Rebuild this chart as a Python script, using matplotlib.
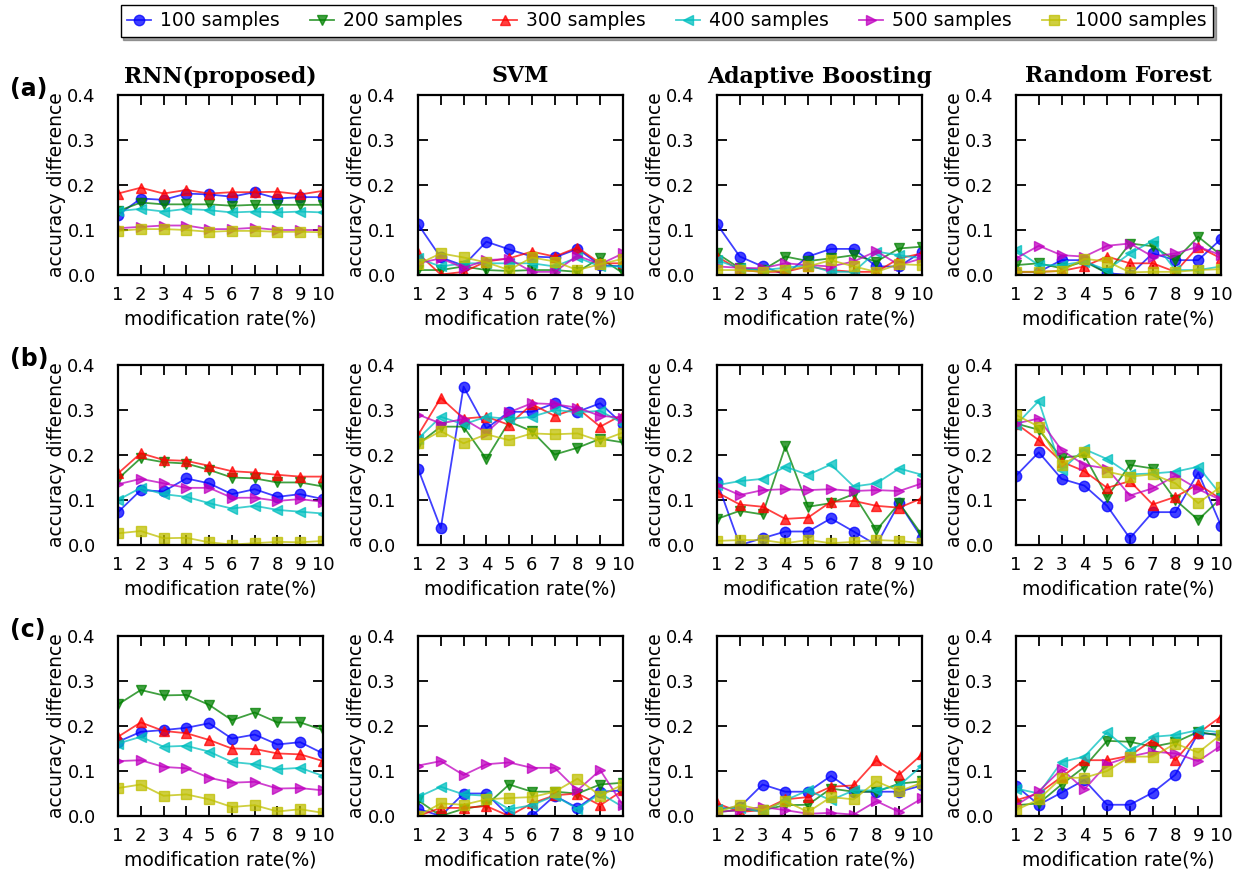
import matplotlib
matplotlib.use("Agg")
import matplotlib.pyplot as plt
import numpy as np

rates = list(range(1, 11))
sample_labels = ["100 samples", "200 samples", "300 samples",
                 "400 samples", "500 samples", "1000 samples"]
model_titles = ["RNN(proposed)", "SVM", "Adaptive Boosting", "Random Forest"]
row_tags = ["(a)", "(b)", "(c)"]

# ---- row (a) ----
a_rnn = [
    [0.133, 0.170, 0.167, 0.181, 0.179, 0.174, 0.184, 0.170, 0.173, 0.173],
    [0.142, 0.161, 0.157, 0.157, 0.157, 0.154, 0.156, 0.156, 0.156, 0.156],
    [0.181, 0.194, 0.181, 0.189, 0.181, 0.184, 0.184, 0.185, 0.179, 0.187],
    [0.142, 0.147, 0.141, 0.147, 0.144, 0.139, 0.141, 0.139, 0.141, 0.139],
    [0.104, 0.107, 0.110, 0.110, 0.102, 0.102, 0.105, 0.100, 0.100, 0.100],
    [0.098, 0.102, 0.102, 0.100, 0.096, 0.098, 0.098, 0.096, 0.096, 0.095],
]
a_svm = [
    [0.113, 0.039, 0.021, 0.074, 0.057, 0.041, 0.039, 0.058, 0.022, 0.019],
    [0.011, 0.011, 0.019, 0.011, 0.009, 0.011, 0.011, 0.007, 0.038, 0.004],
    [0.048, 0.001, 0.007, 0.030, 0.037, 0.052, 0.041, 0.061, 0.026, 0.026],
    [0.037, 0.019, 0.026, 0.026, 0.026, 0.026, 0.019, 0.039, 0.019, 0.019],
    [0.026, 0.037, 0.016, 0.033, 0.036, 0.007, 0.007, 0.043, 0.024, 0.048],
    [0.024, 0.048, 0.039, 0.028, 0.011, 0.039, 0.030, 0.011, 0.024, 0.036],
]
a_ada = [
    [0.113, 0.041, 0.019, 0.001, 0.041, 0.058, 0.058, 0.019, 0.019, 0.052],
    [0.048, 0.015, 0.011, 0.041, 0.031, 0.037, 0.044, 0.030, 0.059, 0.063],
    [0.041, 0.011, 0.007, 0.007, 0.019, 0.011, 0.007, 0.007, 0.037, 0.048],
    [0.033, 0.015, 0.011, 0.016, 0.022, 0.007, 0.007, 0.052, 0.044, 0.037],
    [0.019, 0.016, 0.015, 0.026, 0.022, 0.019, 0.030, 0.053, 0.022, 0.037],
    [0.011, 0.011, 0.007, 0.011, 0.019, 0.033, 0.019, 0.007, 0.024, 0.022],
]
a_rf = [
    [0.007, 0.007, 0.033, 0.033, 0.004, 0.000, 0.048, 0.033, 0.033, 0.080],
    [0.022, 0.026, 0.015, 0.030, 0.004, 0.070, 0.064, 0.033, 0.085, 0.044],
    [0.007, 0.007, 0.009, 0.019, 0.041, 0.026, 0.026, 0.007, 0.063, 0.037],
    [0.056, 0.022, 0.022, 0.030, 0.011, 0.048, 0.076, 0.011, 0.011, 0.019],
    [0.037, 0.065, 0.044, 0.041, 0.065, 0.070, 0.041, 0.048, 0.063, 0.044],
    [0.007, 0.007, 0.009, 0.036, 0.030, 0.006, 0.007, 0.007, 0.011, 0.013],
]

# ---- row (b) ----
b_rnn = [
    [0.073, 0.122, 0.119, 0.148, 0.137, 0.113, 0.124, 0.107, 0.113, 0.102],
    [0.147, 0.193, 0.184, 0.181, 0.167, 0.150, 0.148, 0.139, 0.139, 0.130],
    [0.159, 0.204, 0.189, 0.187, 0.176, 0.164, 0.161, 0.156, 0.152, 0.152],
    [0.100, 0.127, 0.113, 0.107, 0.093, 0.081, 0.087, 0.078, 0.074, 0.070],
    [0.135, 0.147, 0.137, 0.127, 0.127, 0.105, 0.105, 0.098, 0.102, 0.096],
    [0.026, 0.031, 0.015, 0.016, 0.006, 0.001, 0.004, 0.007, 0.006, 0.009],
]
b_svm = [
    [0.170, 0.037, 0.352, 0.259, 0.296, 0.296, 0.315, 0.296, 0.315, 0.268],
    [0.224, 0.263, 0.263, 0.191, 0.274, 0.253, 0.201, 0.216, 0.236, 0.228],
    [0.244, 0.327, 0.281, 0.285, 0.267, 0.313, 0.287, 0.304, 0.263, 0.290],
    [0.236, 0.285, 0.268, 0.285, 0.280, 0.285, 0.300, 0.295, 0.298, 0.270],
    [0.290, 0.270, 0.280, 0.250, 0.295, 0.315, 0.313, 0.305, 0.287, 0.283],
    [0.226, 0.253, 0.226, 0.246, 0.233, 0.248, 0.246, 0.248, 0.231, 0.250],
]
b_ada = [
    [0.141, 0.000, 0.015, 0.030, 0.030, 0.059, 0.030, 0.000, 0.093, 0.015],
    [0.058, 0.076, 0.068, 0.219, 0.085, 0.093, 0.113, 0.033, 0.093, 0.022],
    [0.117, 0.090, 0.085, 0.058, 0.061, 0.096, 0.098, 0.087, 0.083, 0.104],
    [0.133, 0.142, 0.147, 0.174, 0.156, 0.179, 0.130, 0.137, 0.170, 0.156],
    [0.133, 0.111, 0.122, 0.124, 0.122, 0.124, 0.120, 0.122, 0.120, 0.137],
    [0.009, 0.011, 0.011, 0.004, 0.011, 0.004, 0.007, 0.011, 0.009, 0.004],
]
b_rf = [
    [0.154, 0.206, 0.147, 0.132, 0.087, 0.015, 0.073, 0.073, 0.161, 0.043],
    [0.270, 0.256, 0.194, 0.199, 0.107, 0.178, 0.170, 0.100, 0.056, 0.104],
    [0.270, 0.233, 0.185, 0.164, 0.127, 0.142, 0.090, 0.107, 0.135, 0.102],
    [0.267, 0.320, 0.167, 0.213, 0.191, 0.157, 0.159, 0.163, 0.174, 0.111],
    [0.270, 0.281, 0.211, 0.178, 0.170, 0.110, 0.126, 0.154, 0.124, 0.100],
    [0.289, 0.263, 0.178, 0.207, 0.163, 0.152, 0.157, 0.137, 0.093, 0.130],
]

# ---- row (c) ----
c_rnn = [
    [0.165, 0.187, 0.191, 0.196, 0.206, 0.172, 0.181, 0.159, 0.164, 0.139],
    [0.248, 0.280, 0.268, 0.269, 0.247, 0.213, 0.230, 0.208, 0.208, 0.191],
    [0.176, 0.208, 0.189, 0.184, 0.169, 0.150, 0.149, 0.139, 0.137, 0.122],
    [0.161, 0.176, 0.154, 0.156, 0.143, 0.120, 0.115, 0.104, 0.107, 0.089],
    [0.122, 0.124, 0.109, 0.106, 0.085, 0.074, 0.076, 0.061, 0.062, 0.057],
    [0.062, 0.070, 0.045, 0.048, 0.037, 0.020, 0.024, 0.010, 0.015, 0.007],
]
c_svm = [
    [0.016, 0.000, 0.050, 0.050, 0.000, 0.000, 0.045, 0.018, 0.054, 0.057],
    [0.035, 0.000, 0.016, 0.024, 0.070, 0.054, 0.054, 0.050, 0.070, 0.074],
    [0.000, 0.018, 0.018, 0.022, 0.000, 0.028, 0.046, 0.050, 0.024, 0.057],
    [0.042, 0.065, 0.048, 0.045, 0.015, 0.024, 0.045, 0.016, 0.050, 0.020],
    [0.112, 0.122, 0.091, 0.115, 0.119, 0.107, 0.107, 0.057, 0.102, 0.024],
    [0.000, 0.028, 0.025, 0.037, 0.040, 0.042, 0.054, 0.083, 0.045, 0.070],
]
c_ada = [
    [0.016, 0.020, 0.070, 0.054, 0.054, 0.089, 0.054, 0.054, 0.054, 0.068],
    [0.009, 0.013, 0.013, 0.024, 0.025, 0.061, 0.054, 0.054, 0.072, 0.077],
    [0.028, 0.009, 0.013, 0.037, 0.042, 0.065, 0.068, 0.124, 0.092, 0.137],
    [0.016, 0.018, 0.009, 0.035, 0.057, 0.035, 0.057, 0.057, 0.068, 0.112],
    [0.009, 0.013, 0.020, 0.013, 0.005, 0.007, 0.003, 0.033, 0.009, 0.039],
    [0.009, 0.025, 0.013, 0.033, 0.009, 0.042, 0.037, 0.077, 0.055, 0.074],
]
c_rf = [
    [0.067, 0.025, 0.052, 0.080, 0.025, 0.025, 0.052, 0.092, 0.184, 0.181],
    [0.024, 0.028, 0.070, 0.109, 0.167, 0.165, 0.154, 0.164, 0.187, 0.178],
    [0.035, 0.050, 0.087, 0.124, 0.124, 0.134, 0.169, 0.124, 0.184, 0.221],
    [0.061, 0.050, 0.120, 0.132, 0.186, 0.144, 0.176, 0.180, 0.191, 0.186],
    [0.024, 0.055, 0.104, 0.059, 0.115, 0.132, 0.143, 0.139, 0.122, 0.156],
    [0.013, 0.037, 0.085, 0.085, 0.100, 0.132, 0.132, 0.161, 0.141, 0.181],
]

grid = [
    [a_rnn, a_svm, a_ada, a_rf],
    [b_rnn, b_svm, b_ada, b_rf],
    [c_rnn, c_svm, c_ada, c_rf],
]

colors = ["#0000ff", "#008000", "#ff0000", "#00bfbf", "#bf00bf", "#bfbf00"]
markers = ["o", "v", "^", "<", ">", "s"]

W, H = 1245, 873
fig = plt.figure(figsize=(W / 100, H / 100), dpi=100)

col_left = [118, 418, 717, 1016]
row_top = [95, 365, 636]
ax_w, ax_h = 205, 180

handles = []
for r in range(3):
    for c in range(4):
        left = col_left[c] / W
        bottom = 1 - (row_top[r] + ax_h) / H
        ax = fig.add_axes([left, bottom, ax_w / W, ax_h / H])
        for k, series in enumerate(grid[r][c]):
            ln, = ax.plot(rates, series, color=colors[k], marker=markers[k],
                          markersize=7.5, markeredgecolor=colors[k],
                          linewidth=1.3, alpha=0.75, label=sample_labels[k])
            if r == 0 and c == 0:
                handles.append(ln)
        ax.set_xlim(1, 10)
        ax.set_ylim(0, 0.4)
        ax.set_xticks(rates)
        ax.set_yticks([0.0, 0.1, 0.2, 0.3, 0.4])
        ax.tick_params(direction="in", top=True, right=True, length=7,
                       width=1.3, labelsize=13)
        ax.tick_params(axis="x", pad=8)
        ax.tick_params(axis="y", pad=16)
        for sp in ax.spines.values():
            sp.set_linewidth(1.6)
        ax.set_xlabel("modification rate(%)", fontsize=13.5, labelpad=4)
        ax.set_ylabel("accuracy difference", fontsize=13.5, labelpad=1)
        if r == 0:
            ax.set_title(model_titles[c], fontsize=15.8, fontweight="bold",
                         family="DejaVu Serif", pad=9)

for r in range(3):
    fig.text(10 / W, 1 - (row_top[r] - 6) / H, row_tags[r], fontsize=17,
             fontweight="bold", va="center", ha="left")

fig.legend(handles=handles, loc="upper center", bbox_to_anchor=(0.5355, 1.0),
           ncol=6, fontsize=13.5, numpoints=1, shadow=True, fancybox=False,
           edgecolor="black", framealpha=1, handlelength=1.3,
           columnspacing=1.62, handletextpad=0.45, borderpad=0.35,
           borderaxespad=0.25)

fig.savefig("out.png", dpi=100)
